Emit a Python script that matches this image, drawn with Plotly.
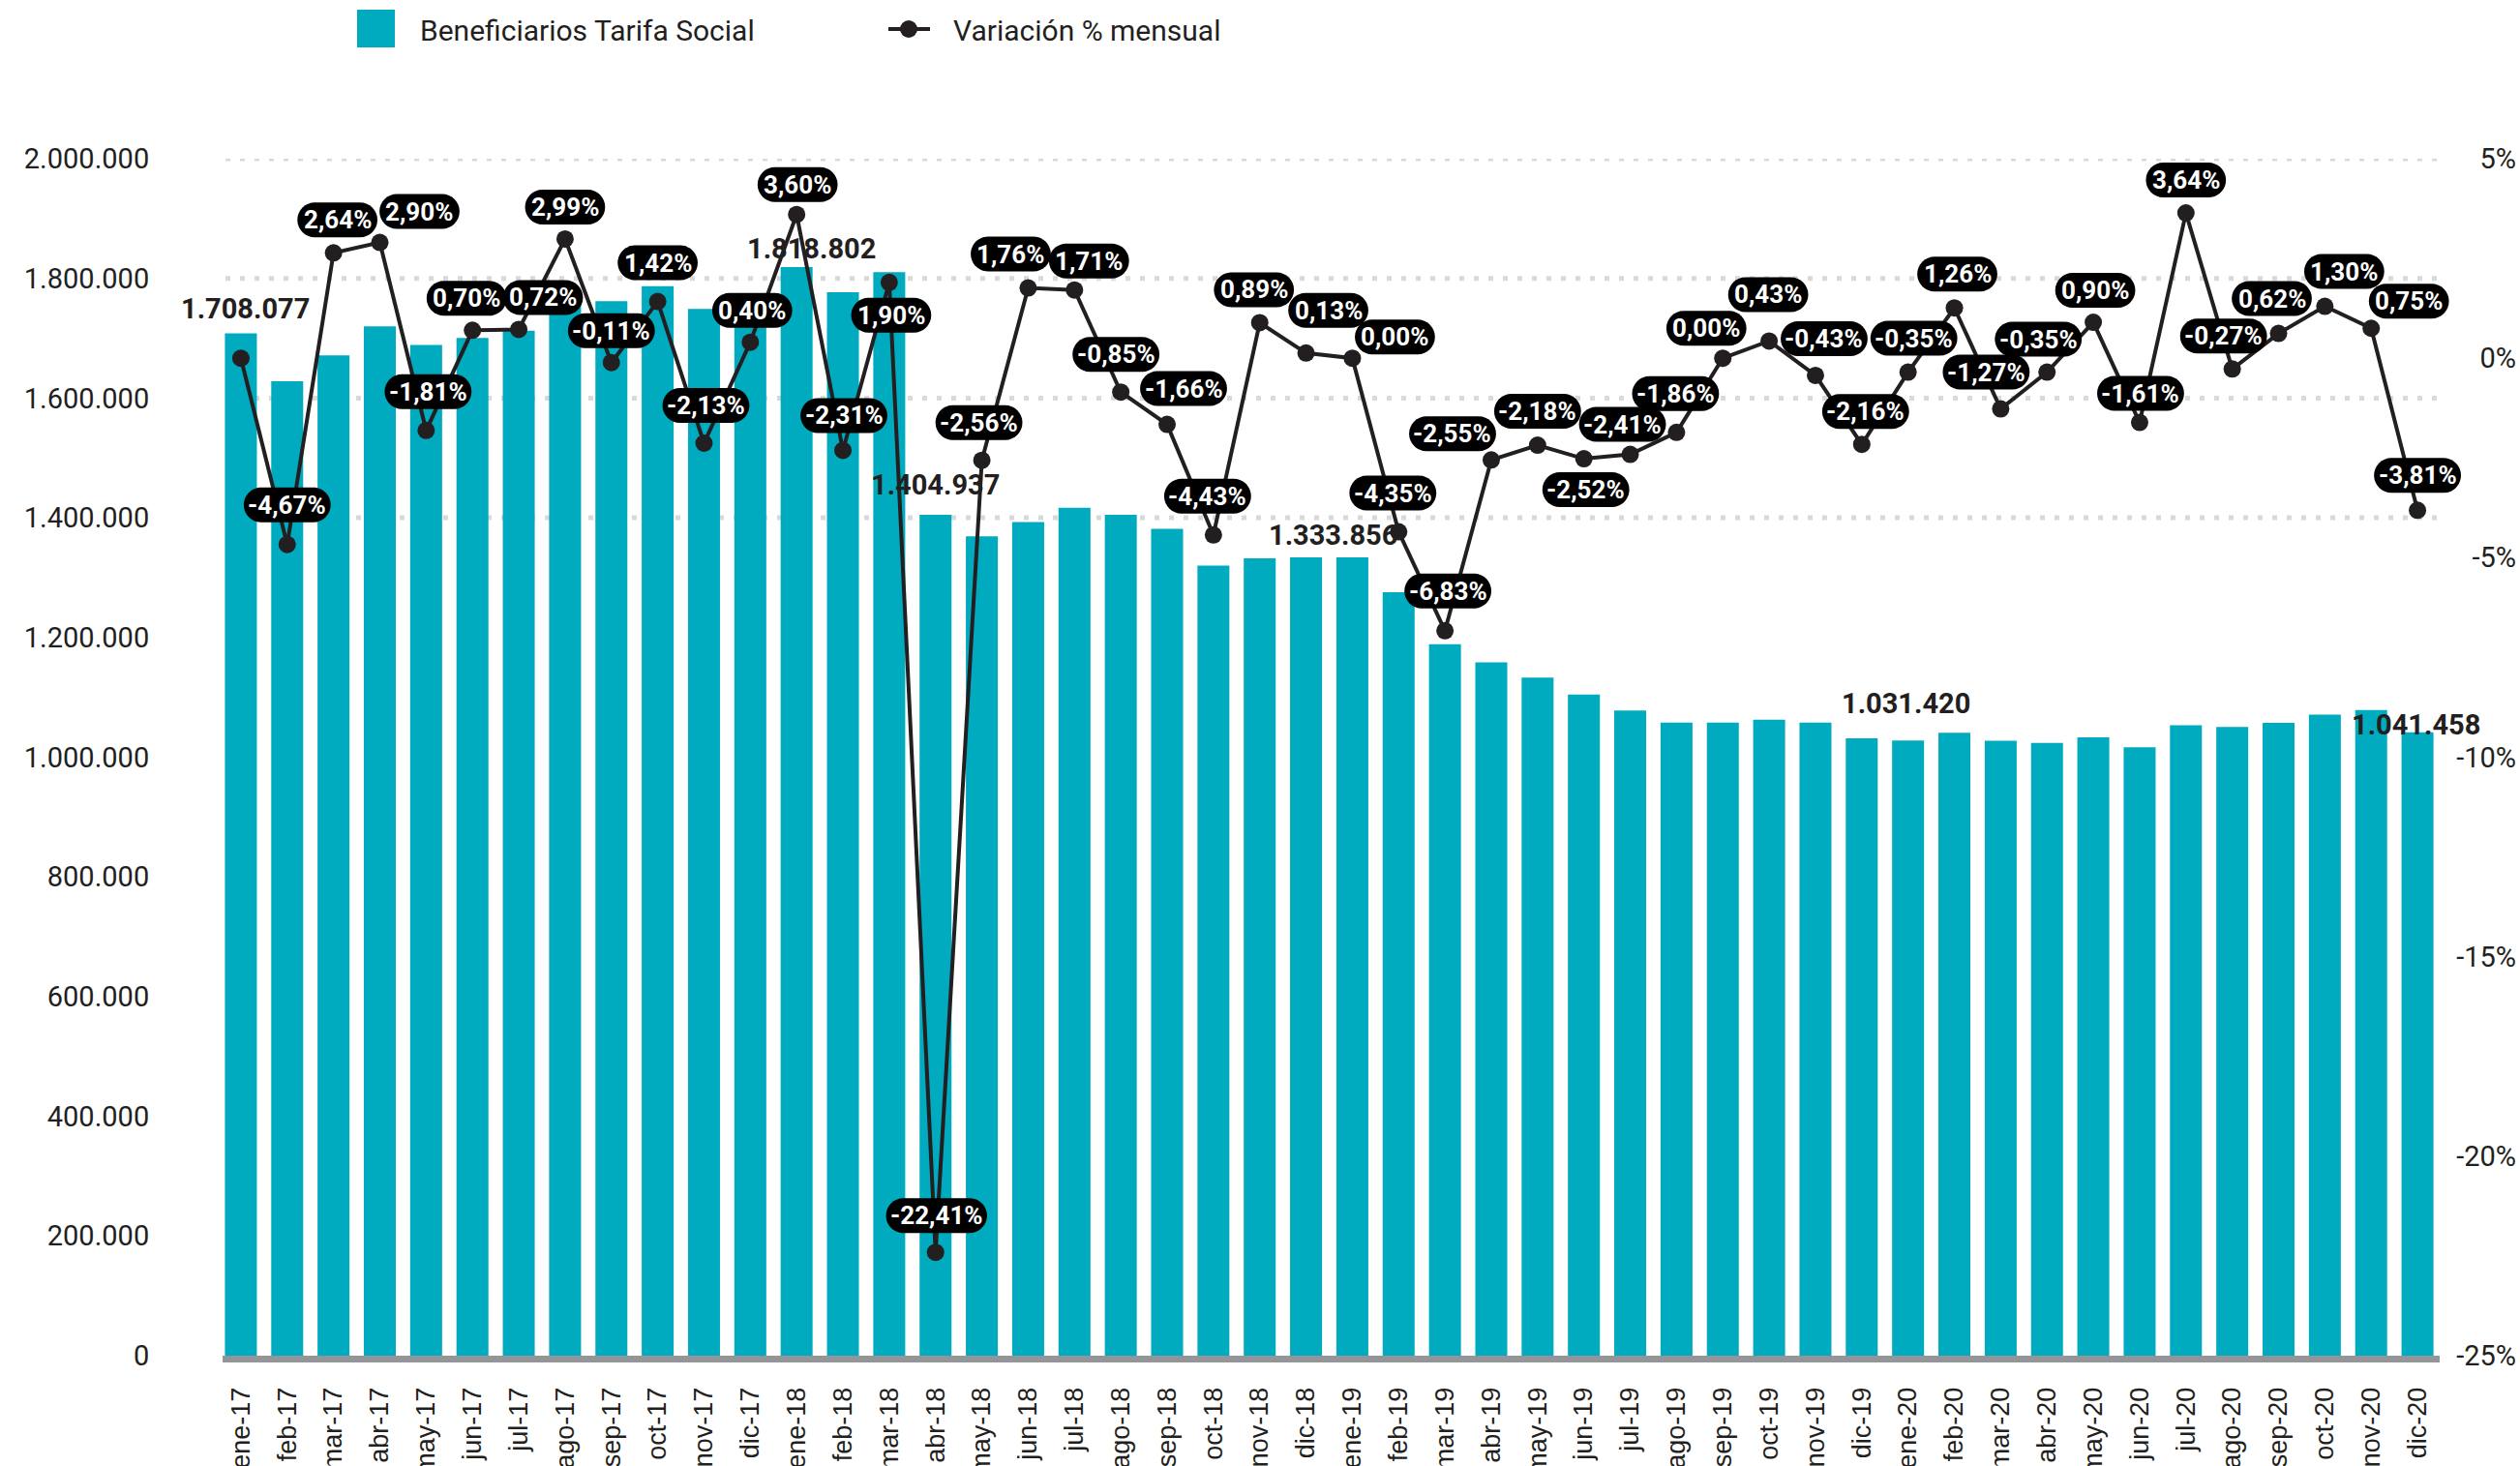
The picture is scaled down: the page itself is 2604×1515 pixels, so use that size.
import plotly.graph_objects as go

# ---------------- data ----------------
months = ["ene-17", "feb-17", "mar-17", "abr-17", "may-17", "jun-17", "jul-17", "ago-17",
          "sep-17", "oct-17", "nov-17", "dic-17",
          "ene-18", "feb-18", "mar-18", "abr-18", "may-18", "jun-18", "jul-18", "ago-18",
          "sep-18", "oct-18", "nov-18", "dic-18",
          "ene-19", "feb-19", "mar-19", "abr-19", "may-19", "jun-19", "jul-19", "ago-19",
          "sep-19", "oct-19", "nov-19", "dic-19",
          "ene-20", "feb-20", "mar-20", "abr-20", "may-20", "jun-20", "jul-20", "ago-20",
          "sep-20", "oct-20", "nov-20", "dic-20"]

beneficiarios = [1708077, 1628310, 1671297, 1719765, 1688637, 1700457, 1712700, 1763910,
                 1761970, 1786990, 1748930, 1755926,
                 1818802, 1776788, 1810547, 1404937, 1368970, 1393064, 1416885, 1404842,
                 1381522, 1320320, 1332071, 1333856,
                 1333856, 1275833, 1188694, 1158382, 1133129, 1104574, 1077954, 1057904,
                 1057904, 1062453, 1057884, 1031420,
                 1027810, 1040760, 1027542, 1023946, 1033161, 1016527, 1053529, 1050684,
                 1057198, 1070942, 1078974, 1041458]

variacion = [0.00, -4.67, 2.64, 2.90, -1.81, 0.70, 0.72, 2.99, -0.11, 1.42, -2.13, 0.40,
             3.60, -2.31, 1.90, -22.41, -2.56, 1.76, 1.71, -0.85, -1.66, -4.43, 0.89, 0.13,
             0.00, -4.35, -6.83, -2.55, -2.18, -2.52, -2.41, -1.86, 0.00, 0.43, -0.43, -2.16,
             -0.35, 1.26, -1.27, -0.35, 0.90, -1.61, 3.64, -0.27, 0.62, 1.30, 0.75, -3.81]

bar_label_idx = [0, 12, 15, 23, 35, 47]
bar_label_text = ["1.708.077", "1.818.802", "1.404.937", "1.333.856", "1.031.420", "1.041.458"]

left_ticks = [0, 200000, 400000, 600000, 800000, 1000000, 1200000, 1400000, 1600000, 1800000, 2000000]
left_tick_text = ["0", "200.000", "400.000", "600.000", "800.000", "1.000.000", "1.200.000",
                  "1.400.000", "1.600.000", "1.800.000", "2.000.000"]
grid_levels = [1400000, 1600000, 1800000, 2000000]
right_ticks = [-25, -20, -15, -10, -5, 0, 5]
right_tick_text = ["-25%", "-20%", "-15%", "-10%", "-5%", "0%", "5%"]

# label placement (pixel offsets of the pill centre from the point; None = no label)
pill_offsets = [None, (0, -41), (4, -34), (41, -32), (2, -40), (-6, -33), (25, -33), (0, -33),
                (0, -33), (0, -40), (2, -39), (2, -33),
                (1, -31), (1, -36), (2, 34), (1, -38), (-3, -39), (-18, -35), (15, -30), (-5, -39),
                (17, -37), (-6, -40), (-6, -34), (23, -44),
                (44, -22), (-6, -40), (3, -41), (-40, -27), (0, -35), (2, 32), (-8, -31), (-1, -40),
                (-17, -31), (-1, -48), (9, -38), (4, -34),
                (6, -35), (3, -35), (-15, -38), (-9, -34), (2, -33), (1, -30), (0, -34), (-9, -34),
                (-7, -36), (20, -36), (39, -28), (0, -36)]
bar_label_offsets = [(5, 26), (15, 19), (0, 31), (28, 23), (46, 36), (-2, 8)]

# ---------------- style ----------------
W, H = 2604, 1515
ML, MR, MT, MB = 225, 4, 164, 114
PLOT_RIGHT = 2522          # right end of the category band area
TEAL = "#00ABBF"
DARK = "#231F20"
FONT = "Roboto"

pw = W - ML - MR
ph = H - MT - MB
n = len(months)
cat_px = (PLOT_RIGHT - ML) / n
x_extra = (W - MR - PLOT_RIGHT) / cat_px   # extend axis so labels near the right edge aren't clipped


def px_x(x):
    return (x - ML) / pw


def px_y(y):
    return 1 - (y - MT) / ph


CHAR_W = {"-": 0.273, ",": 0.224, "%": 0.735, ".": 0.27}


def text_width(s, size):
    return sum(CHAR_W.get(c, 0.5615) for c in s) * size


def pill_path(cx, cy, w, h):
    r = h / 2
    k = 0.5523 * r
    l, rt = cx - w / 2, cx + w / 2
    b, t = cy - h / 2, cy + h / 2
    return (f"M{l + r},{b} L{rt - r},{b} "
            f"C{rt - r + k},{b} {rt},{b + r - k} {rt},{b + r} "
            f"C{rt},{b + r + k} {rt - r + k},{t} {rt - r},{t} "
            f"L{l + r},{t} "
            f"C{l + r - k},{t} {l},{t - r + k} {l},{t - r} "
            f"C{l},{t - r - k} {l + r - k},{b} {l + r},{b} Z")


idx = list(range(n))

fig = go.Figure()
fig.add_trace(go.Bar(x=idx, y=beneficiarios, marker=dict(color=TEAL, line=dict(width=0)),
                     width=0.69, name="Beneficiarios Tarifa Social", yaxis="y", showlegend=False))
fig.add_trace(go.Scatter(x=idx, y=variacion, mode="lines+markers", yaxis="y2",
                         line=dict(color=DARK, width=4), marker=dict(color=DARK, size=18),
                         name="Variación % mensual", showlegend=False))

shapes = []
annotations = []

# dotted gridlines (only in the upper part, as in the reference)
for g in grid_levels:
    shapes.append(dict(type="line", xref="paper", yref="y", x0=px_x(233), x1=px_x(2518),
                       y0=g, y1=g, line=dict(color="#D9D9D9", width=5, dash="5px,10px"),
                       layer="below"))

# grey baseline
shapes.append(dict(type="line", xref="paper", yref="paper", x0=px_x(230), x1=px_x(2521),
                   y0=px_y(1404.5), y1=px_y(1404.5), line=dict(color="#939598", width=7),
                   layer="above"))

PILL_FS = 26
PILL_H = 36
for i, v in enumerate(variacion):
    off = pill_offsets[i]
    if off is None:
        continue
    dx, dy = off
    txt = f"{v:.2f}".replace(".", ",") + "%"
    w = text_width(txt, PILL_FS) + 14
    shapes.append(dict(type="path", xref="x", yref="y2", xsizemode="pixel", ysizemode="pixel",
                       xanchor=i, yanchor=v, path=pill_path(dx, -dy, w, PILL_H),
                       fillcolor="black", line=dict(width=0), layer="above"))
    annotations.append(dict(x=i, y=v, xref="x", yref="y2", text=txt, showarrow=False,
                            xshift=dx, yshift=-dy, xanchor="center", yanchor="middle",
                            font=dict(family=FONT, size=PILL_FS, color="white", weight=700)))

for k, i in enumerate(bar_label_idx):
    dx, up = bar_label_offsets[k]
    annotations.append(dict(x=i, y=beneficiarios[i], xref="x", yref="y", text=bar_label_text[k],
                            showarrow=False, xshift=dx, yshift=up, xanchor="center", yanchor="middle",
                            font=dict(family=FONT, size=29, color=DARK, weight=700)))

# legend (drawn manually)
shapes.append(dict(type="rect", xref="paper", yref="paper", x0=px_x(369), x1=px_x(408),
                   y0=px_y(49), y1=px_y(10), fillcolor=TEAL, line=dict(width=0)))
annotations.append(dict(x=px_x(432), y=px_y(31), xref="paper", yref="paper", showarrow=False,
                        text="Beneficiarios Tarifa Social", xanchor="left", yanchor="middle",
                        font=dict(family=FONT, size=30, color=DARK)))
shapes.append(dict(type="line", xref="paper", yref="paper", x0=px_x(918), x1=px_x(961),
                   y0=px_y(30), y1=px_y(30), line=dict(color=DARK, width=4)))
shapes.append(dict(type="circle", xref="paper", yref="paper", x0=px_x(930), x1=px_x(948),
                   y0=px_y(39), y1=px_y(21), fillcolor=DARK, line=dict(width=0)))
annotations.append(dict(x=px_x(983), y=px_y(31), xref="paper", yref="paper", showarrow=False,
                        text="Variación % mensual", xanchor="left", yanchor="middle",
                        font=dict(family=FONT, size=30, color=DARK)))

fig.update_layout(
    width=W, height=H,
    margin=dict(l=ML, r=MR, t=MT, b=MB, pad=0, autoexpand=False),
    paper_bgcolor="white", plot_bgcolor="white",
    bargap=0.31,
    showlegend=False,
    xaxis=dict(domain=[0, 1], range=[-0.5, n - 0.5 + x_extra], automargin=False,
               tickmode="array", tickvals=idx, ticktext=months, tickangle=-90,
               tickfont=dict(family="Liberation Sans", size=27, color=DARK),
               ticks="outside", ticklen=21, tickcolor="rgba(0,0,0,0)",
               showline=False, showgrid=False, zeroline=False),
    yaxis=dict(range=[0, 2000000], automargin=False,
               tickmode="array", tickvals=left_ticks, ticktext=left_tick_text,
               tickfont=dict(family=FONT, size=29, color=DARK),
               ticks="outside", ticklen=64, tickcolor="rgba(0,0,0,0)",
               showgrid=False, zeroline=False, showline=False),
    yaxis2=dict(range=[-25, 5], overlaying="y", side="left", anchor="free", position=1,
                automargin=False,
                tickmode="array", tickvals=right_ticks, ticktext=right_tick_text,
                tickfont=dict(family=FONT, size=29, color=DARK),
                ticks="", showgrid=False, zeroline=False, showline=False),
    shapes=shapes,
    annotations=annotations,
)

fig.write_html("out.html", config={"displayModeBar": False},
               post_script="document.body.style.margin='0';")
